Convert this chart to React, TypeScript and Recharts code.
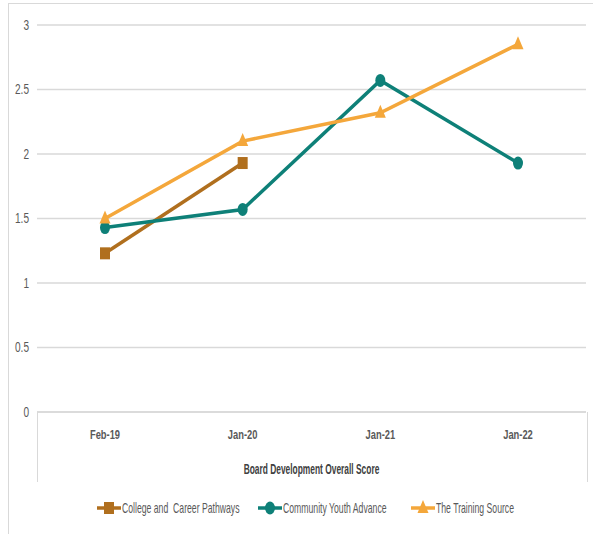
import { LineChart, Line, XAxis, YAxis, CartesianGrid, Legend } from "recharts";

const categories = ["Feb-19", "Jan-20", "Jan-21", "Jan-22"];
const collegeCareer = [1.23, 1.93, null, null];
const communityYouth = [1.43, 1.57, 2.57, 1.93];
const trainingSource = [1.5, 2.1, 2.32, 2.85];
const yTicks = [0, 0.5, 1, 1.5, 2, 2.5, 3];

const SERIES = [
  { key: "college", name: "College and  Career Pathways", color: "#B06F1E", shape: "square" },
  { key: "community", name: "Community Youth Advance", color: "#0E8078", shape: "circle" },
  { key: "training", name: "The Training Source", color: "#F4A73B", shape: "triangle" },
];

const data = categories.map((c, i) => ({
  cat: c,
  college: collegeCareer[i],
  community: communityYouth[i],
  training: trainingSource[i],
}));

const W = 585;
const H = 531;
const LEG_H = 20;
const M = { top: 22, right: 7, left: 0, bottom: 32 };
const Y_W = 29;
const X_H = 70;
const GRID = "#d9d9d9";
const FONT = "'Liberation Sans', Arial, sans-serif";

function Marker({ shape, color, cx, cy }: any) {
  if (cx == null || cy == null || isNaN(cx) || isNaN(cy)) return <g />;
  if (shape === "square") return <rect x={cx - 5} y={cy - 6} width={10} height={12} fill={color} />;
  if (shape === "circle") return <ellipse cx={cx} cy={cy} rx={5} ry={6.5} fill={color} />;
  return <polygon points={`${cx},${cy - 8} ${cx + 5.5},${cy + 5} ${cx - 5.5},${cy + 5}`} fill={color} />;
}

// narrow text, like the condensed font of the original
function Squeezed({ x, y, anchor, children, size = 13, sx = 0.72, weight = "normal", fill = "#595959" }: any) {
  return (
    <text
      transform={`translate(${x} ${y}) scale(${sx} 1)`}
      textAnchor={anchor}
      dominantBaseline="central"
      fontFamily={FONT}
      fontSize={size}
      fontWeight={weight}
      fill={fill}
      style={{ whiteSpace: "pre" }}
    >
      {children}
    </text>
  );
}

function XTick({ x, y, payload }: any) {
  return <Squeezed x={x} y={y + 14} anchor="middle" weight="bold">{payload.value}</Squeezed>;
}

function YTick({ x, y, payload }: any) {
  return <Squeezed x={x} y={y} anchor="end" size={14}>{payload.value}</Squeezed>;
}

function XTitle({ viewBox }: any) {
  const { x, y, width, height } = viewBox;
  return (
    <Squeezed x={x + width / 2} y={y + height - 13} anchor="middle" weight="bold" size={14} sx={0.6} fill="#404040">
      Board Development Overall Score
    </Squeezed>
  );
}

function LegendContent() {
  const starts = [89, 250, 403];
  return (
    <svg width={W} height={LEG_H} style={{ display: "block" }}>
      {SERIES.map((s, i) => {
        const x0 = starts[i];
        return (
          <g key={s.key}>
            <line x1={x0} y1={10} x2={x0 + 24} y2={10} stroke={s.color} strokeWidth={3.5} />
            <Marker shape={s.shape} color={s.color} cx={x0 + 12} cy={10} />
            <Squeezed x={x0 + 25} y={10} anchor="start" size={14} sx={0.62}>{s.name}</Squeezed>
          </g>
        );
      })}
    </svg>
  );
}

export default function App() {
  const plotLeft = M.left + Y_W;
  const plotRight = W - M.right;
  const plotBottom = H - M.bottom - LEG_H - X_H;
  return (
    <div style={{ position: "absolute", left: 8, top: 3, width: W, height: H, borderTop: `1px solid ${GRID}`, borderLeft: `1px solid ${GRID}`, boxSizing: "border-box" }}>
      <div style={{ position: "absolute", left: -1, top: -1 }}>
        <LineChart width={W} height={H} data={data} margin={M}>
          <CartesianGrid vertical={false} stroke={GRID} strokeWidth={1.5} />
          <XAxis
            dataKey="cat"
            height={X_H}
            padding={{ left: 68, right: 68 }}
            tickLine={false}
            axisLine={{ stroke: GRID, strokeWidth: 1.5 }}
            tick={<XTick />}
            label={<XTitle />}
          />
          <YAxis
            width={Y_W}
            domain={[0, 3]}
            ticks={yTicks}
            tickLine={false}
            axisLine={false}
            tick={<YTick />}
          />
          {SERIES.map((s) => (
            <Line
              key={s.key}
              dataKey={s.key}
              name={s.name}
              stroke={s.color}
              strokeWidth={3.5}
              isAnimationActive={false}
              dot={(p: any) => <Marker key={`${s.key}-${p.index}`} shape={s.shape} color={s.color} cx={p.cx} cy={p.cy} />}
              activeDot={false}
            />
          ))}
          <Legend
            verticalAlign="bottom"
            content={<LegendContent />}
            wrapperStyle={{ top: 495, bottom: "auto", left: 0, height: LEG_H, lineHeight: 0 }}
          />
        </LineChart>
      </div>
      <div
        style={{
          position: "absolute",
          left: plotLeft - 1,
          top: plotBottom - 1,
          width: plotRight - plotLeft,
          height: X_H,
          borderLeft: `1.5px solid ${GRID}`,
          borderRight: `1.5px solid ${GRID}`,
          pointerEvents: "none",
        }}
      />
    </div>
  );
}
